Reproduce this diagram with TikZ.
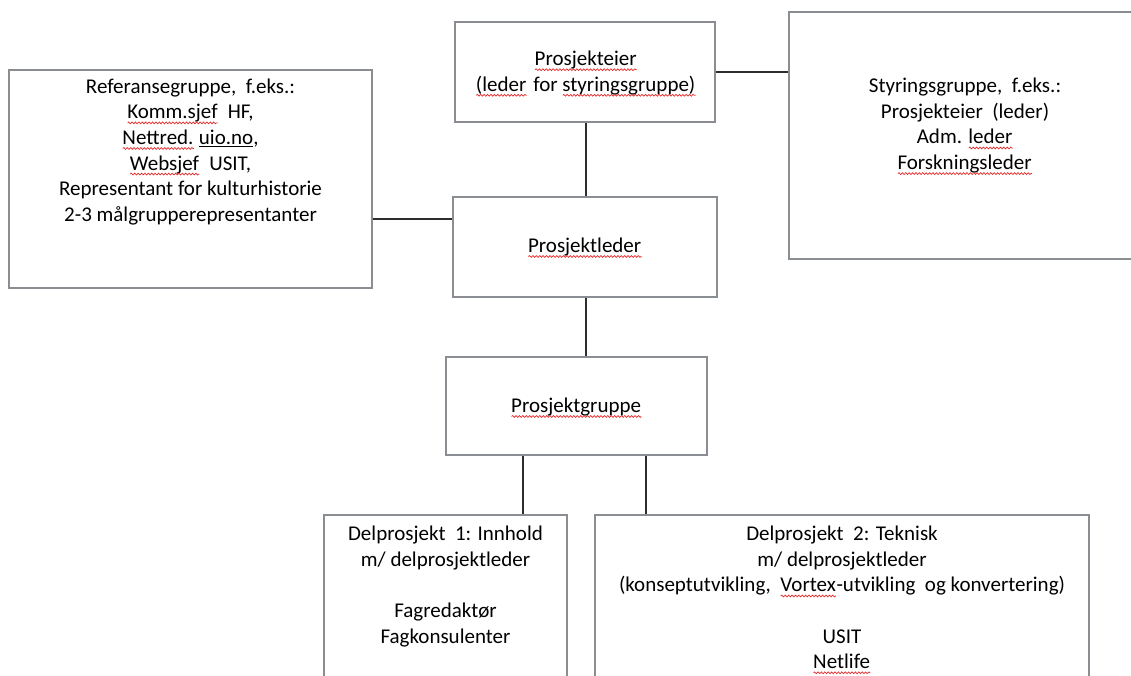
\documentclass[tikz,border=0pt]{standalone}
\usepackage{fontspec}
\setmainfont{Carlito}
\usetikzlibrary{decorations.pathmorphing}
\definecolor{boxgray}{RGB}{138,141,145}
\definecolor{linegray}{RGB}{45,45,45}
\definecolor{spell}{RGB}{230,40,40}
\newsavebox\swbox
\newlength\swlen
\newcommand\sw[1]{\sbox\swbox{#1}\setlength\swlen{\wd\swbox}\rlap{\usebox\swbox}\raisebox{-4pt}[0pt][0pt]{\tikz[x=1pt,y=1pt,baseline=0pt]\draw[spell,line width=0.7pt,decorate,decoration={snake,amplitude=0.9pt,segment length=3.4pt}] (0pt,0pt) -- (\swlen,0pt);}}
\newcommand\ul[1]{\underline{#1}}
\begin{document}
\begin{tikzpicture}[x=1pt,y=-1pt,
  box/.style={draw=boxgray, line width=2.6pt, fill=none, inner sep=0pt},
  conn/.style={draw=linegray, line width=1.5pt},
  txt/.style={align=center, inner sep=0pt, text=black, font=\fontsize{21}{25.6}\selectfont}]
\useasboundingbox[fill=white] (0,0) rectangle (1131,676);

% boxes
\node[box, minimum width=363pt, minimum height=218pt] (ref)    at (190.5,179) {};
\node[box, minimum width=260pt, minimum height=100pt] (eier)   at (585,72) {};
\node[box, minimum width=264pt, minimum height=100pt] (leder)  at (585,247) {};
\node[box, minimum width=352pt, minimum height=247pt] (styr)   at (965,135.5) {};
\node[box, minimum width=261pt, minimum height=98pt]  (gruppe) at (576.5,406) {};
\node[box, minimum width=243pt, minimum height=205pt] (del1)   at (445.5,617.5) {};
\node[box, minimum width=494pt, minimum height=205pt] (del2)   at (842,617.5) {};

% texts
\node[txt, anchor=north] (reft) at (190.5,78.5) {Referansegruppe,\ \ f.eks.:\\
  \sw{Komm.sjef}\ \ HF,\\
  \sw{Nettred.} \ul{uio.no},\\
  \sw{Websjef}\ \ USIT,\\
  Representant for kulturhistorie\\
  2-3 målgrupperepresentanter};
\node[txt] (eiert) at (586,73) {\sw{Prosjekteier}\\\sw{(leder}\hspace{1.5pt} for \sw{styringsgruppe)}};
\node[txt] (ledert) at (585,247) {\sw{Prosjektleder}};
\node[txt, anchor=north] (styrt) at (965,78) {Styringsgruppe,\ \ f.eks.:\\
  Prosjekteier\ \ (leder)\\
  Adm. \sw{leder}\\
  \sw{Forskningsleder}};
\node[txt] (gruppet) at (576.5,407) {\sw{Prosjektgruppe}};
\node[txt, anchor=north] (del1t) at (445.5,526) {Delprosjekt\ \ 1: Innhold\\
  m/ delprosjektleder\\[25.6pt]
  Fagredaktør\\
  Fagkonsulenter};
\node[txt, anchor=north] (del2t) at (842,526) {Delprosjekt\ \ 2: Teknisk\\
  m/ delprosjektleder\\
  (konseptutvikling,\ \ \sw{Vortex}-utvikling\ \ og konvertering)\\[25.6pt]
  USIT\\
  \sw{Netlife}};

% connectors
\coordinate (xl) at (586,0);
\coordinate (yl) at (0,219);
\coordinate (x1) at (523,0);
\coordinate (x2) at (646,0);
\draw[conn] (eier.south -| xl) -- (leder.north -| xl);
\draw[conn] (eier.east) -- (styr.west |- eier.east);
\draw[conn] (ref.east |- yl) -- (leder.west |- yl);
\draw[conn] (leder.south -| xl) -- (gruppe.north -| xl);
\draw[conn] (gruppe.south -| x1) -- (del1.north -| x1);
\draw[conn] (gruppe.south -| x2) -- (del2.north -| x2);
\end{tikzpicture}
\end{document}
